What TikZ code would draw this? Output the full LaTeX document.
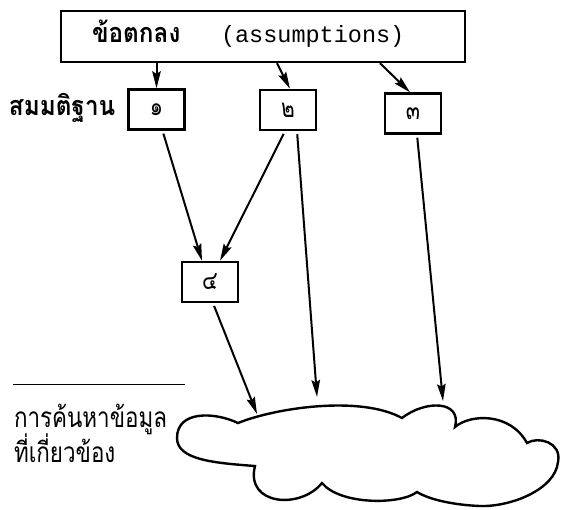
\documentclass[tikz,border=0pt]{standalone}
\usepackage{fontspec}
\setmonofont{Liberation Mono}
\newfontfamily\thaifont[Script=Thai,FakeStretch=0.8]{Loma}
\newfontfamily\thaibold[Script=Thai,FakeStretch=0.9]{Loma}
\usetikzlibrary{arrows.meta}
\newcommand{\thaibig}{\thaifont\fontsize{28}{32}\selectfont}
\newcommand{\thaihead}{\thaibold\bfseries\fontsize{27}{31}\selectfont}
\newcommand{\digit}[1]{{\thaifont\fontsize{26}{30}\selectfont #1}}

\begin{document}
\begin{tikzpicture}[x=1pt, y=-1pt,
                    line width=2pt,
                    box/.style={
                        draw, line width=2.4pt,
                        minimum width=56pt, minimum height=40pt,
                        inner sep=0pt
                    },
                    link/.style={
                        -{Stealth[length=17pt,width=8.5pt,inset=2.5pt]},
                        shorten <=3pt
                    },
                    thaitag/.style={inner sep=0pt, anchor=base west}]

    \useasboundingbox (0,0) rectangle (561,509);

    \node[box, minimum width=404pt, minimum height=51pt] (top) at (263,36.5) {};
    \node[thaitag] (termth) at (91,42) {\thaihead ข้อตกลง};
    \node[thaitag] (termen) at (220,42) {\ttfamily\fontsize{23.5}{28}\selectfont (assumptions)};

    \node[thaitag] (hyplabel) at (8,115) {\thaihead สมมติฐาน};
    \node[box] (h1) at (156.5,109.5) {\digit{๑}};
    \node[box] (h2) at (288,110) {\digit{๒}};
    \node[box] (h3) at (413,113.5) {\digit{๓}};
    \node[box] (h4) at (210,282) {\digit{๔}};

    \draw[line width=1pt] (13,384) -- (185,384);
    \node[thaitag] (search1) at (13,427) {\thaibig การค้นหาข้อมูล};
    \node[thaitag] (search2) at (13,462) {\thaibig ที่เกี่ยวข้อง};

    \draw[line width=2.4pt] (238,423) .. controls (275,408) and (360,395) .. (402,418)
        .. controls (425,400) and (462,400) .. (455,427)
        .. controls (470,414) and (510,412) .. (527,443)
        .. controls (538,436) and (562,442) .. (558,462)
        .. controls (555,490) and (510,507) .. (480,506)
        .. controls (455,505) and (430,500) .. (417,492)
        .. controls (400,505) and (340,505) .. (322,483)
        .. controls (300,510) and (245,505) .. (255,466)
        .. controls (215,463) and (177,460) .. (177,438)
        .. controls (177,410) and (215,412) .. cycle;
    \coordinate (c1) at (257,414);
    \coordinate (c2) at (317,397);
    \coordinate (c3) at (443,401);

    \draw[link, shorten <=0pt] (top.south -| h1.north) -- (h1.north);
    \draw[link, shorten <=0pt] ([xshift=-11pt]h2.north |- top.south) -- ([xshift=2pt]h2.north);
    \draw[link, shorten <=0pt] ([xshift=-33pt]h3.north |- top.south) -- ([xshift=-3pt]h3.north);

    \draw[link] ([xshift=6pt]h1.south) -- ([xshift=-8pt]h4.north);
    \draw[link] ([xshift=-3pt]h2.south) -- ([xshift=10pt]h4.north);
    \draw[link] ([xshift=9pt]h2.south) -- (c2);
    \draw[link] ([xshift=4pt]h3.south) -- (c3);
    \draw[link] ([xshift=3pt]h4.south) -- (c1);

\end{tikzpicture}
\end{document}
